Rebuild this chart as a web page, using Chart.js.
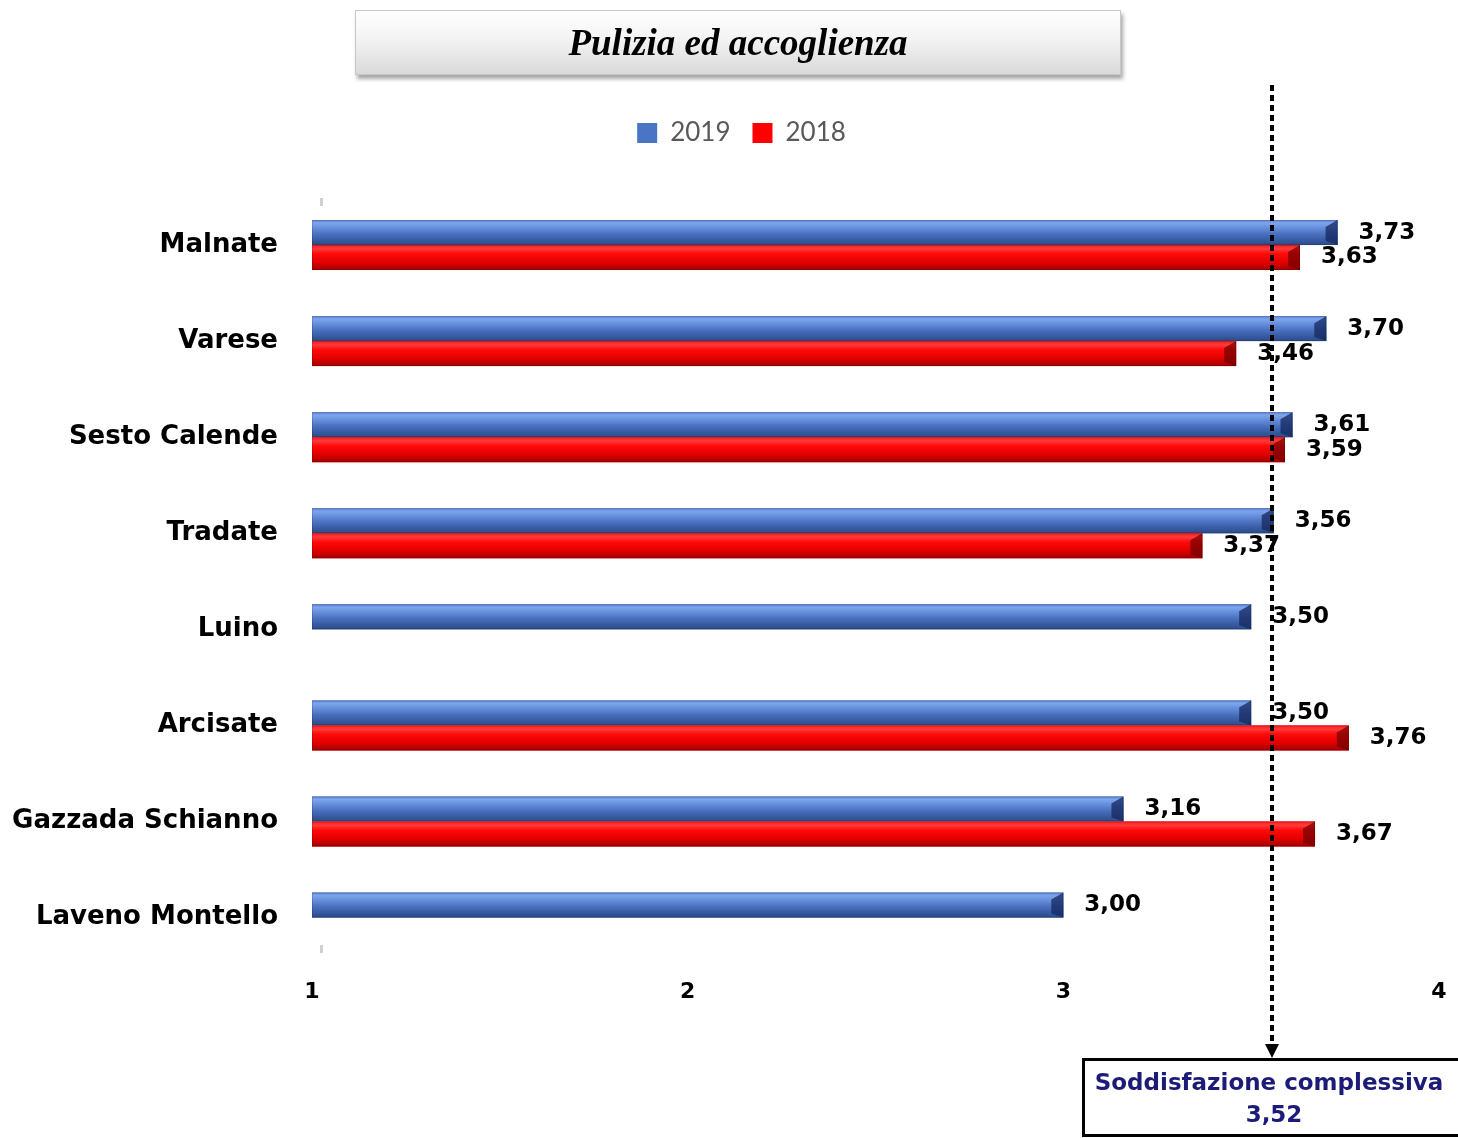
<!DOCTYPE html>
<html>
<head>
<meta charset="utf-8">
<script src="https://cdn.jsdelivr.net/npm/chart.js@4"></script>
<style>
  html, body { margin: 0; padding: 0; background: #fff; }
  #wrap { position: relative; width: 1458px; height: 1138px; }
  #title {
    position: absolute; left: 355px; top: 10px; width: 764px; height: 63px;
    background: linear-gradient(#ffffff, #f3f3f3 45%, #d9d9d9);
    border: 1px solid #c8c8c8;
    box-shadow: 2px 4px 4px rgba(0,0,0,0.35);
    font: italic bold 37px "Liberation Serif", serif;
    text-align: center; line-height: 63px; color: #000;
  }
</style>
</head>
<body>
<div id="wrap">
  <canvas id="chart-area" width="1458" height="1138"></canvas>
  <div id="title">Pulizia ed accoglienza</div>
</div>
<script>
var categories = ["Malnate", "Varese", "Sesto Calende", "Tradate", "Luino", "Arcisate", "Gazzada Schianno", "Laveno Montello"];
var values2019 = [3.73, 3.70, 3.61, 3.56, 3.50, 3.50, 3.16, 3.00];
var values2018 = [3.63, 3.46, 3.59, 3.37, null, 3.76, 3.67, null];
var xTicks = [1, 2, 3, 4];
var overallLabel = "3,52";
var overallMarkAt = 3.555; // where the dotted marker sits in the picture

function fmt(v) { return v.toFixed(2).replace(".", ","); }

// extra room under the legend, and nudge it a bit to the right
var legendGap = {
  id: "legendGap",
  afterInit: function(chart) {
    var lg = chart.legend;
    var origFit = lg.fit;
    var origDraw = lg.draw;
    lg.fit = function() { origFit.call(this); this.height += 41; };
    lg.draw = function() {
      this.ctx.save();
      this.ctx.translate(22, 0);
      origDraw.call(this);
      this.ctx.restore();
    };
  }
};

// shading for the 3D bars
var barShade = {
  id: "barShade",
  afterDatasetsDraw: function(chart) {
    var c = chart.ctx;
    chart.data.datasets.forEach(function(ds, di) {
      var meta = chart.getDatasetMeta(di);
      meta.data.forEach(function(el, i) {
        if (ds.data[i] == null) return;
        var top = el.y - el.height / 2, bot = el.y + el.height / 2;
        var left = el.base, right = el.x;
        var g = c.createLinearGradient(0, top, 0, bot);
        ds.shade.forEach(function(s) { g.addColorStop(s[0], s[1]); });
        c.save();
        c.fillStyle = g;
        c.fillRect(left, top, right - left, bot - top);
        // bevelled end cap
        c.fillStyle = ds.capColor;
        c.beginPath();
        c.moveTo(right, top);
        c.lineTo(right, bot);
        c.lineTo(right - 12, bot - 4);
        c.lineTo(right - 12, top + 7);
        c.closePath();
        c.fill();
        c.strokeStyle = "rgba(0,0,0,0.15)";
        c.lineWidth = 1;
        c.strokeRect(left + 0.5, top + 0.5, right - left - 1, bot - top - 1);
        // value label
        c.fillStyle = "#000";
        c.font = "bold 23px 'DejaVu Sans'";
        c.textAlign = "left";
        c.textBaseline = "middle";
        c.fillText(fmt(ds.data[i]), right + 21, el.y);
        c.restore();
      });
    });
  }
};

// dotted marker line with arrow and the overall box
var overallMarker = {
  id: "overallMarker",
  afterDraw: function(chart) {
    var c = chart.ctx;
    var x = Math.round(chart.scales.x.getPixelForValue(overallMarkAt));
    c.save();
    // small marks at the top and bottom of the value axis
    c.fillStyle = "#d0d0d0";
    c.fillRect(chart.chartArea.left + 8, 198, 3, 8);
    c.fillRect(chart.chartArea.left + 8, 945, 3, 8);
    c.fillStyle = "#000";
    for (var y = 85; y < 1043; y += 10) c.fillRect(x - 2, y, 4, 6);
    c.beginPath();
    c.moveTo(x - 7, 1044);
    c.lineTo(x + 7, 1044);
    c.lineTo(x, 1058);
    c.closePath();
    c.fill();
    c.lineWidth = 3;
    c.strokeStyle = "#000";
    c.fillStyle = "#fff";
    c.fillRect(x - 190, 1059, 400, 77);
    c.strokeRect(x - 188.5, 1059.5, 400, 76);
    c.fillStyle = "#1c1c78";
    c.font = "bold 23px 'DejaVu Sans'";
    c.textAlign = "center";
    c.textBaseline = "middle";
    c.fillText("Soddisfazione complessiva", x - 3, 1084);
    c.fillText(overallLabel, x + 2, 1116);
    c.restore();
  }
};

var ctx = document.getElementById("chart-area");
var myChart = new Chart(ctx, {
  type: "bar",
  data: {
    labels: categories,
    datasets: [
      {
        label: "2019",
        data: values2019,
        base: 1,
        backgroundColor: "#4a74c4",
        capColor: "rgba(20,40,95,0.75)",
        shade: [[0, "#5f87d4"], [0.12, "#7ea4ec"], [0.3, "#6790dc"], [0.55, "#4a72c0"], [0.85, "#34579c"], [1, "#2c4a86"]]
      },
      {
        label: "2018",
        data: values2018,
        base: 1,
        backgroundColor: "#ff0000",
        capColor: "rgba(110,0,0,0.7)",
        shade: [[0, "#ff1a1a"], [0.15, "#ff3b3b"], [0.35, "#ff0a0a"], [0.7, "#e00000"], [1, "#a30000"]]
      }
    ]
  },
  options: {
    indexAxis: "y",
    responsive: false,
    animation: false,
    datasets: { bar: { barPercentage: 1, categoryPercentage: 0.52 } },
    layout: { padding: { top: 98, left: 0, right: 19, bottom: 128 } },
    scales: {
      x: {
        min: 1,
        max: 4,
        afterBuildTicks: function(s) { s.ticks = xTicks.map(function(v) { return { value: v }; }); },
        grid: { display: false },
        border: { display: false },
        ticks: { color: "#000", padding: 5, font: { family: "DejaVu Sans", size: 22, weight: "bold" } }
      },
      y: {
        afterFit: function(s) { s.width = 312; },
        grid: { display: false },
        border: { display: false },
        ticks: { color: "#000", padding: 26, font: { family: "DejaVu Sans", size: 26, weight: "bold" } }
      }
    },
    plugins: {
      legend: {
        labels: {
          color: "#595959",
          boxWidth: 20,
          boxHeight: 20,
          padding: 22,
          font: { family: "Lato", size: 26 }
        }
      },
      tooltip: { enabled: false }
    }
  },
  plugins: [legendGap, barShade, overallMarker]
});
</script>
</body>
</html>
